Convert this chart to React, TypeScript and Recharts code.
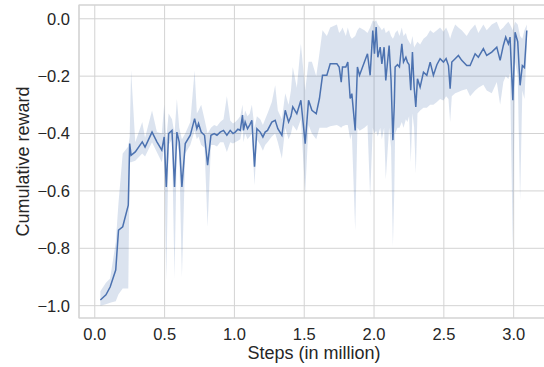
import {
  Area,
  CartesianGrid,
  ComposedChart,
  Line,
  ReferenceArea,
  XAxis,
  YAxis,
} from 'recharts';

// training steps (in million)
const steps = [
  0.04, 0.08, 0.11, 0.15, 0.17, 0.2, 0.24, 0.25, 0.26, 0.29, 0.34, 0.36, 0.41, 0.445, 0.48,
  0.497, 0.512, 0.529, 0.553, 0.571, 0.588, 0.605, 0.624, 0.648, 0.684, 0.715, 0.731, 0.743,
  0.762, 0.786, 0.808, 0.832, 0.855, 0.875, 0.898, 0.922, 0.946, 0.97, 0.99, 1.006, 1.025,
  1.042, 1.058, 1.065, 1.077, 1.094, 1.11, 1.125, 1.144, 1.161, 1.185, 1.204, 1.22, 1.237,
  1.268, 1.292, 1.311, 1.34, 1.364, 1.388, 1.405, 1.418, 1.447, 1.476, 1.507, 1.531, 1.555,
  1.586, 1.609, 1.631, 1.662, 1.686, 1.734, 1.75, 1.765, 1.774, 1.798, 1.812, 1.829, 1.841,
  1.865, 1.881, 1.896, 1.931, 1.953, 1.972, 1.991, 2.003, 2.015, 2.027, 2.044, 2.056, 2.072,
  2.084, 2.108, 2.122, 2.135, 2.145, 2.151, 2.168, 2.182, 2.199, 2.211, 2.228, 2.239, 2.251,
  2.263, 2.275, 2.287, 2.299, 2.311, 2.33, 2.354, 2.378, 2.402, 2.425, 2.45, 2.473, 2.497,
  2.516, 2.533, 2.545, 2.557, 2.581, 2.604, 2.628, 2.664, 2.688, 2.724, 2.747, 2.783, 2.807,
  2.843, 2.879, 2.903, 2.926, 2.943, 2.962, 2.974, 2.994, 3.01, 3.029, 3.046, 3.062, 3.077,
  3.094,
];

const meanReward = [
  -0.98, -0.962, -0.935, -0.876, -0.737, -0.725, -0.65, -0.435, -0.476, -0.464, -0.429, -0.447,
  -0.395, -0.429, -0.458, -0.412, -0.586, -0.4, -0.389, -0.586, -0.395, -0.43, -0.586, -0.435,
  -0.406, -0.348, -0.383, -0.365, -0.395, -0.406, -0.51, -0.406, -0.4, -0.406, -0.395, -0.389,
  -0.406, -0.389, -0.4, -0.395, -0.385, -0.389, -0.336, -0.389, -0.36, -0.383, -0.37, -0.354,
  -0.516, -0.383, -0.395, -0.412, -0.395, -0.389, -0.36, -0.354, -0.383, -0.406, -0.319, -0.36,
  -0.34, -0.307, -0.331, -0.284, -0.435, -0.284, -0.319, -0.331, -0.278, -0.197, -0.197,
  -0.157, -0.157, -0.168, -0.221, -0.168, -0.168, -0.151, -0.278, -0.261, -0.389, -0.168,
  -0.197, -0.151, -0.122, -0.197, -0.041, -0.122, -0.029, -0.134, -0.099, -0.157, -0.099,
  -0.215, -0.093, -0.215, -0.423, -0.3, -0.168, -0.16, -0.168, -0.087, -0.151, -0.134, -0.151,
  -0.16, -0.249, -0.116, -0.238, -0.307, -0.209, -0.238, -0.186, -0.197, -0.151, -0.197, -0.16,
  -0.139, -0.151, -0.139, -0.163, -0.244, -0.151, -0.139, -0.128, -0.145, -0.163, -0.163,
  -0.122, -0.134, -0.104, -0.128, -0.116, -0.099, -0.145, -0.093, -0.064, -0.087, -0.064,
  -0.284, -0.047, -0.08, -0.232, -0.163, -0.17, -0.041,
];

const lowerBand = [
  -1.0, -0.995, -0.99, -0.985, -0.96, -0.94, -0.94, -0.5, -0.5, -0.495, -0.47, -0.48, -0.43,
  -0.465, -0.5, -0.45, -0.91, -0.44, -0.42, -0.905, -0.43, -0.47, -0.9, -0.47, -0.44, -0.39,
  -0.42, -0.41, -0.44, -0.45, -0.725, -0.44, -0.44, -0.445, -0.43, -0.43, -0.464, -0.43, -0.435,
  -0.43, -0.425, -0.42, -0.38, -0.43, -0.4, -0.42, -0.41, -0.4, -0.58, -0.42, -0.44, -0.46,
  -0.44, -0.43, -0.41, -0.4, -0.43, -0.487, -0.38, -0.42, -0.4, -0.37, -0.39, -0.35, -0.609,
  -0.37, -0.4, -0.42, -0.38, -0.38, -0.38, -0.375, -0.37, -0.375, -0.38, -0.375, -0.37, -0.37,
  -0.42, -0.4, -0.737, -0.38, -0.39, -0.38, -0.37, -0.62, -0.38, -0.4, -0.39, -0.41, -0.38,
  -0.42, -0.38, -0.56, -0.38, -0.45, -0.795, -0.6, -0.4, -0.38, -0.38, -0.36, -0.38, -0.35,
  -0.36, -0.34, -0.5, -0.33, -0.38, -0.54, -0.33, -0.32, -0.31, -0.31, -0.3, -0.3, -0.29, -0.28,
  -0.285, -0.27, -0.28, -0.36, -0.27, -0.26, -0.255, -0.25, -0.245, -0.27, -0.25, -0.24, -0.23,
  -0.25, -0.26, -0.22, -0.3, -0.22, -0.2, -0.21, -0.19, -0.8, -0.15, -0.2, -0.632, -0.25, -0.28,
  -0.1,
];

const upperBand = [
  -0.95, -0.92, -0.905, -0.78, -0.64, -0.47, -0.445, -0.41, -0.18, -0.43, -0.36, -0.415, -0.32,
  -0.395, -0.4, -0.3, -0.42, -0.33, -0.35, -0.4, -0.28, -0.38, -0.42, -0.4, -0.36, -0.18, -0.33,
  -0.32, -0.3, -0.35, -0.4, -0.38, -0.37, -0.375, -0.36, -0.35, -0.27, -0.355, -0.365, -0.36,
  -0.35, -0.34, -0.3, -0.35, -0.32, -0.34, -0.33, -0.3, -0.38, -0.34, -0.35, -0.37, -0.35, -0.33,
  -0.29, -0.232, -0.32, -0.35, -0.26, -0.3, -0.25, -0.168, -0.24, -0.087, -0.25, -0.15, -0.15,
  -0.2, -0.12, -0.04, -0.06, -0.03, -0.02, -0.05, -0.04, -0.03, -0.06, -0.03, -0.06, -0.07,
  -0.06, -0.04, -0.03, -0.04, -0.05, -0.03, -0.006, -0.01, -0.005, -0.02, -0.03, -0.04, -0.03,
  -0.05, -0.04, -0.06, -0.07, -0.06, -0.05, -0.04, -0.06, -0.03, -0.06, -0.05, -0.07, -0.08,
  -0.09, -0.06, -0.1, -0.09, -0.08, -0.09, -0.07, -0.06, -0.04, -0.05, -0.04, -0.03, -0.045,
  -0.03, -0.05, -0.07, -0.05, -0.02, -0.03, -0.04, -0.06, -0.04, -0.02, -0.05, -0.02, -0.04,
  -0.02, -0.01, -0.04, -0.03, -0.02, -0.01, -0.02, -0.04, -0.01, -0.02, -0.06, -0.07, -0.04,
  -0.02,
];

const xTicks = [0, 0.5, 1.0, 1.5, 2.0, 2.5, 3.0];
const yTicks = [-1.0, -0.8, -0.6, -0.4, -0.2, 0.0];

const X_DOMAIN: [number, number] = [-0.113, 3.253];
const Y_DOMAIN: [number, number] = [-1.043, 0.048];

const BLUE = '#4c72b0';
const GRID = '#d3d3d3';
const FONT = '"Liberation Sans", Arial, sans-serif';

const fmt = (v: number) => v.toFixed(1).replace('-', '\u2212');

export default function App() {
  const data = steps.map((x, i) => ({
    x,
    mean: meanReward[i],
    band: [lowerBand[i], upperBand[i]],
  }));

  return (
    <div style={{ position: 'absolute', left: 0, top: 0, width: 544, height: 367, overflow: 'hidden', background: '#fff' }}>
      <ComposedChart
        width={560}
        height={367}
        data={data}
        margin={{ top: 5, right: 11, bottom: 0, left: 0 }}
        style={{ fontFamily: FONT }}
      >
        <CartesianGrid stroke={GRID} strokeWidth={1} />
        <XAxis
          type="number"
          dataKey="x"
          domain={X_DOMAIN}
          ticks={xTicks}
          tickFormatter={fmt}
          allowDataOverflow
          height={49}
          tickSize={0}
          tickLine={false}
          tickMargin={10}
          axisLine={false}
          tick={{ fill: '#262626', fontSize: 16.5, fontFamily: FONT }}
          label={{ value: 'Steps (in million)', position: 'insideBottom', offset: 8, fill: '#262626', fontSize: 18, fontFamily: FONT }}
        />
        <YAxis
          type="number"
          domain={Y_DOMAIN}
          ticks={yTicks}
          tickFormatter={fmt}
          allowDataOverflow
          width={79}
          tickSize={0}
          tickLine={false}
          tickMargin={9}
          axisLine={false}
          tick={{ fill: '#262626', fontSize: 16.5, fontFamily: FONT }}
          label={{ value: 'Cumulative reward', angle: -90, position: 'center', dx: -17, fill: '#262626', fontSize: 18, fontFamily: FONT }}
        />
        <ReferenceArea
          x1={X_DOMAIN[0]}
          x2={X_DOMAIN[1]}
          y1={Y_DOMAIN[0]}
          y2={Y_DOMAIN[1]}
          fill="none"
          stroke={GRID}
          strokeWidth={1.2}
        />
        <Area
          type="linear"
          dataKey="band"
          stroke="none"
          fill={BLUE}
          fillOpacity={0.2}
          isAnimationActive={false}
          activeDot={false}
        />
        <Line
          type="linear"
          dataKey="mean"
          stroke={BLUE}
          strokeWidth={1.5}
          dot={false}
          activeDot={false}
          isAnimationActive={false}
        />
      </ComposedChart>
    </div>
  );
}
